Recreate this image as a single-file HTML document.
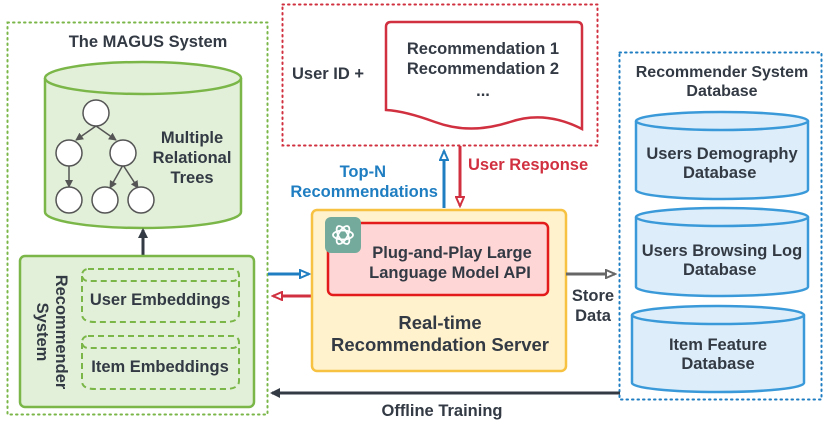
<!DOCTYPE html>
<html><head><meta charset="utf-8"><style>
body{margin:0;background:#fff}
text{font-family:"Liberation Sans",sans-serif;font-weight:bold;fill:#333a44}
</style></head><body>
<svg width="830" height="422" viewBox="0 0 830 422" xmlns="http://www.w3.org/2000/svg">
<defs>
<marker id="ad" markerWidth="10" markerHeight="10" refX="8" refY="5" orient="auto" markerUnits="userSpaceOnUse"><path d="M0,0 L10,5 L0,10 z" fill="#333a44"/></marker>
<marker id="ab" markerWidth="12" markerHeight="10" refX="10" refY="5" orient="auto" markerUnits="userSpaceOnUse"><path d="M1,1 L10,5 L1,9 z" fill="#fff" stroke="#1f7ec1" stroke-width="2"/></marker>
<marker id="ar" markerWidth="12" markerHeight="10" refX="10" refY="5" orient="auto" markerUnits="userSpaceOnUse"><path d="M1,1 L10,5 L1,9 z" fill="#fff" stroke="#d0303f" stroke-width="2"/></marker>
<marker id="ag" markerWidth="12" markerHeight="10" refX="10" refY="5" orient="auto" markerUnits="userSpaceOnUse"><path d="M1,1 L10,5 L1,9 z" fill="#fff" stroke="#666" stroke-width="2"/></marker>
<marker id="at" markerWidth="8" markerHeight="8" refX="7" refY="4" orient="auto" markerUnits="userSpaceOnUse"><path d="M0,0 L8,4 L0,8 z" fill="#555"/></marker>
</defs>

<!-- MAGUS box -->
<rect x="7.5" y="22.5" width="260" height="392" fill="none" stroke="#7ab648" stroke-width="2" stroke-dasharray="1.5 4" stroke-linecap="round"/>
<text x="148" y="47" font-size="16.5" text-anchor="middle">The MAGUS System</text>
<path d="M45,78 L45,212 A98,16 0 0 0 241,212 L241,78" fill="#e2f0d9" stroke="#7ab648" stroke-width="2.5"/>
<ellipse cx="143" cy="78" rx="98" ry="16" fill="#e2f0d9" stroke="#7ab648" stroke-width="2.5"/>
<g stroke="#555" stroke-width="1.5" marker-end="url(#at)">
<line x1="96" y1="126" x2="76" y2="140"/><line x1="96" y1="126" x2="116" y2="140"/>
<line x1="69" y1="165" x2="69" y2="187"/><line x1="123" y1="165" x2="110" y2="188"/><line x1="123" y1="165" x2="138" y2="188"/>
</g>
<g fill="#fff" stroke="#555" stroke-width="1.5">
<circle cx="96" cy="113" r="13"/><circle cx="69" cy="153" r="13"/><circle cx="123" cy="153" r="13"/>
<circle cx="69" cy="200" r="13"/><circle cx="105" cy="200" r="13"/><circle cx="141" cy="200" r="13"/>
</g>
<text font-size="16.5" text-anchor="middle"><tspan x="192" y="143">Multiple</tspan><tspan x="192" y="163">Relational</tspan><tspan x="192" y="183">Trees</tspan></text>
<line x1="143" y1="256" x2="143" y2="230" stroke="#333a44" stroke-width="3" marker-end="url(#ad)"/>
<rect x="20" y="256" width="234" height="151" rx="5" fill="#e2f0d9" stroke="#7ab648" stroke-width="2.5"/>
<text font-size="16.5" text-anchor="middle" transform="translate(52,332) rotate(90)"><tspan x="0" y="-4">Recommender</tspan><tspan x="0" y="15">System</tspan></text>
<g fill="none" stroke="#7ab648" stroke-width="2" stroke-dasharray="6 4">
<path d="M82,276 L82,314 Q82,322 95,322 L225,322 Q239,322 239,314 L239,276"/>
<rect x="82" y="269" width="157" height="12" rx="6"/>
<path d="M82,343 L82,381 Q82,389 95,389 L225,389 Q239,389 239,381 L239,343"/>
<rect x="82" y="336" width="157" height="12" rx="6"/>
</g>
<text x="160" y="305" font-size="16.5" text-anchor="middle">User Embeddings</text>
<text x="160" y="372" font-size="16.5" text-anchor="middle">Item Embeddings</text>

<!-- arrows left -->
<line x1="268" y1="274" x2="309" y2="274" stroke="#1f7ec1" stroke-width="3" marker-end="url(#ab)"/>
<line x1="311" y1="296" x2="273" y2="296" stroke="#d0303f" stroke-width="3" marker-end="url(#ar)"/>

<!-- user box -->
<rect x="282.5" y="4.5" width="315" height="141" fill="none" stroke="#d0303f" stroke-width="2" stroke-dasharray="1.5 4" stroke-linecap="round"/>
<text x="292" y="79" font-size="16.5">User ID  +</text>
<path d="M386,27 Q386,22 391,22 L577,22 Q582,22 582,27 L582,129 Q545,110 510,122 Q470,135 435,122 Q405,111 386,110 Z" fill="#fff" stroke="#d0303f" stroke-width="2.5"/>
<text font-size="16.5" text-anchor="middle"><tspan x="483" y="54">Recommendation 1</tspan><tspan x="483" y="74">Recommendation 2</tspan><tspan x="483" y="96">...</tspan></text>
<line x1="444" y1="208" x2="444" y2="151" stroke="#1f7ec1" stroke-width="3" marker-end="url(#ab)"/>
<line x1="460" y1="146" x2="460" y2="206" stroke="#d0303f" stroke-width="3" marker-end="url(#ar)"/>
<text x="468" y="170" font-size="16.5" style="fill:#d0303f">User Response</text>
<text font-size="16.5" text-anchor="end" style="fill:#1f7ec1"><tspan x="386" y="177">Top-N</tspan><tspan x="438" y="197">Recommendations</tspan></text>

<!-- server -->
<rect x="312" y="210" width="254" height="161" rx="5" fill="#fff2cc" stroke="#f7c242" stroke-width="2.5"/>
<rect x="328" y="223" width="220" height="72" rx="5" fill="#ffd6d6" stroke="#e31b1b" stroke-width="2.5"/>
<rect x="325" y="217" width="36" height="36" rx="6" fill="#74aa9c"/>
<g fill="none" stroke="#fff" stroke-width="1.8" transform="translate(343,235)">
<ellipse rx="10" ry="4.5"/><ellipse rx="10" ry="4.5" transform="rotate(60)"/><ellipse rx="10" ry="4.5" transform="rotate(120)"/>
</g>
<text font-size="16.5" text-anchor="middle"><tspan x="452" y="258">Plug-and-Play Large</tspan><tspan x="450" y="278">Language Model API</tspan></text>
<text font-size="18.5" text-anchor="middle"><tspan x="440" y="329">Real-time</tspan><tspan x="440" y="351">Recommendation Server</tspan></text>
<line x1="566" y1="274" x2="615" y2="274" stroke="#666" stroke-width="3" marker-end="url(#ag)"/>
<text font-size="16.5" text-anchor="middle"><tspan x="593" y="301">Store</tspan><tspan x="593" y="321">Data</tspan></text>

<!-- db box -->
<rect x="619.5" y="52.5" width="202" height="347" fill="none" stroke="#1f7ec1" stroke-width="2" stroke-dasharray="1.5 4" stroke-linecap="round"/>
<text font-size="16" text-anchor="middle"><tspan x="722" y="77">Recommender System</tspan><tspan x="722" y="96">Database</tspan></text>
<g fill="#ddeefa" stroke="#3a9ad9" stroke-width="2.5">
<path d="M636,121 L636,190 A86,9 0 0 0 808,190 L808,121"/><ellipse cx="722" cy="121" rx="86" ry="9"/>
<path d="M636,217 L636,287 A86,9 0 0 0 808,287 L808,217"/><ellipse cx="722" cy="217" rx="86" ry="9"/>
<path d="M632,315 L632,383 A86,9 0 0 0 804,383 L804,315"/><ellipse cx="718" cy="315" rx="86" ry="9"/>
</g>
<text font-size="16.5" text-anchor="middle"><tspan x="722" y="159">Users Demography</tspan><tspan x="722" y="178">Database</tspan>
<tspan x="722" y="256">Users Browsing Log</tspan><tspan x="722" y="275">Database</tspan>
<tspan x="718" y="350">Item Feature</tspan><tspan x="718" y="369">Database</tspan></text>

<line x1="620" y1="393" x2="272" y2="393" stroke="#333a44" stroke-width="3" marker-end="url(#ad)"/>
<text x="442" y="416" font-size="16.5" text-anchor="middle">Offline Training</text>
</svg>
</body></html>
